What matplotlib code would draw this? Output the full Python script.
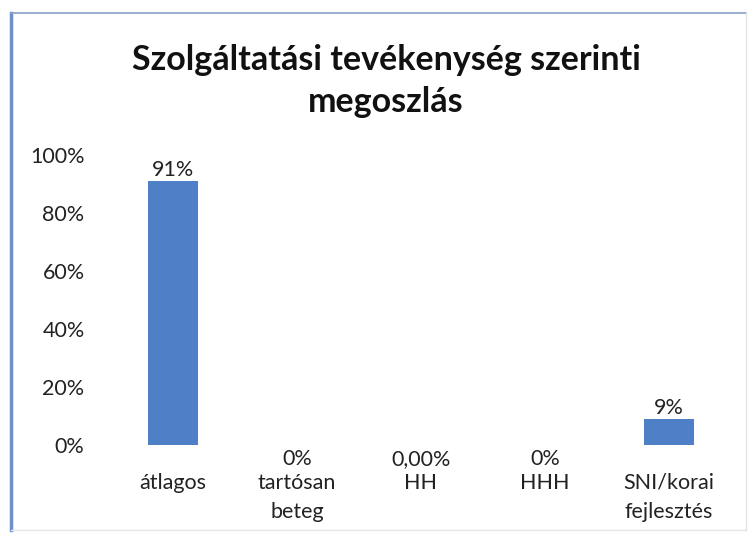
import numpy as np
import matplotlib.pyplot as plt
from matplotlib.lines import Line2D

categories = ["átlagos", "tartósan\nbeteg", "HH", "HHH", "SNI/korai\nfejlesztés"]
values = [0.91, 0.0, 0.0, 0.0, 0.09]
value_labels = ["91%", "0%", "0,00%", "0%", "9%"]
yticks = [0, 0.2, 0.4, 0.6, 0.8, 1.0]
ytick_labels = ["0%", "20%", "40%", "60%", "80%", "100%"]

plt.rcParams['font.family'] = ['Lato', 'DejaVu Sans']

fig = plt.figure(figsize=(7.52, 5.40), dpi=100)
W, H = 752, 540

# frame of the chart area
fig.add_artist(Line2D([11/W, 11/W], [1 - 13/H, 1 - 530/H], color="#6f8fcb", lw=2.5))
fig.add_artist(Line2D([11/W, 746/W], [1 - 13/H, 1 - 13/H], color="#8aa0c8", lw=1.2))
fig.add_artist(Line2D([746/W, 746/W], [1 - 13/H, 1 - 530/H], color="#e4e4e4", lw=1))
fig.add_artist(Line2D([11/W, 746/W], [1 - 530/H, 1 - 530/H], color="#e4e4e4", lw=1))

ax = fig.add_axes([111/W, 1 - 445/H, 620/W, 290/H])
x = np.arange(len(categories))
ax.bar(x, values, width=0.4, color="#4f7fc6")
ax.set_xlim(-0.5, len(categories) - 0.5)
ax.set_ylim(0, 1)
ax.set_yticks(yticks)
ax.set_yticklabels(ytick_labels, fontsize=15.5, color="#222222")
ax.set_xticks(x)
ax.set_xticklabels(categories, fontsize=15.5, color="#222222", linespacing=1.55)
ax.tick_params(axis="both", length=0)
ax.tick_params(axis="x", pad=20)
ax.tick_params(axis="y", pad=19)
for s in ax.spines.values():
    s.set_visible(False)

for xi, v, lab in zip(x, values, value_labels):
    if v > 0:
        ax.annotate(lab, (xi, v), xytext=(0, 1), textcoords="offset points",
                    ha="center", va="bottom", fontsize=15.5, color="#222222")
    else:
        ax.annotate(lab, (xi, v), xytext=(0, -3), textcoords="offset points",
                    ha="center", va="top", fontsize=15.5, color="#222222")

fig.text(386/W, 1 - 81/H, "Szolgáltatási tevékenység szerinti\nmegoszlás",
         ha="center", va="center", fontsize=24.5, fontweight="bold",
         color="#111111", linespacing=1.4)

fig.savefig("out.png", dpi=100)
